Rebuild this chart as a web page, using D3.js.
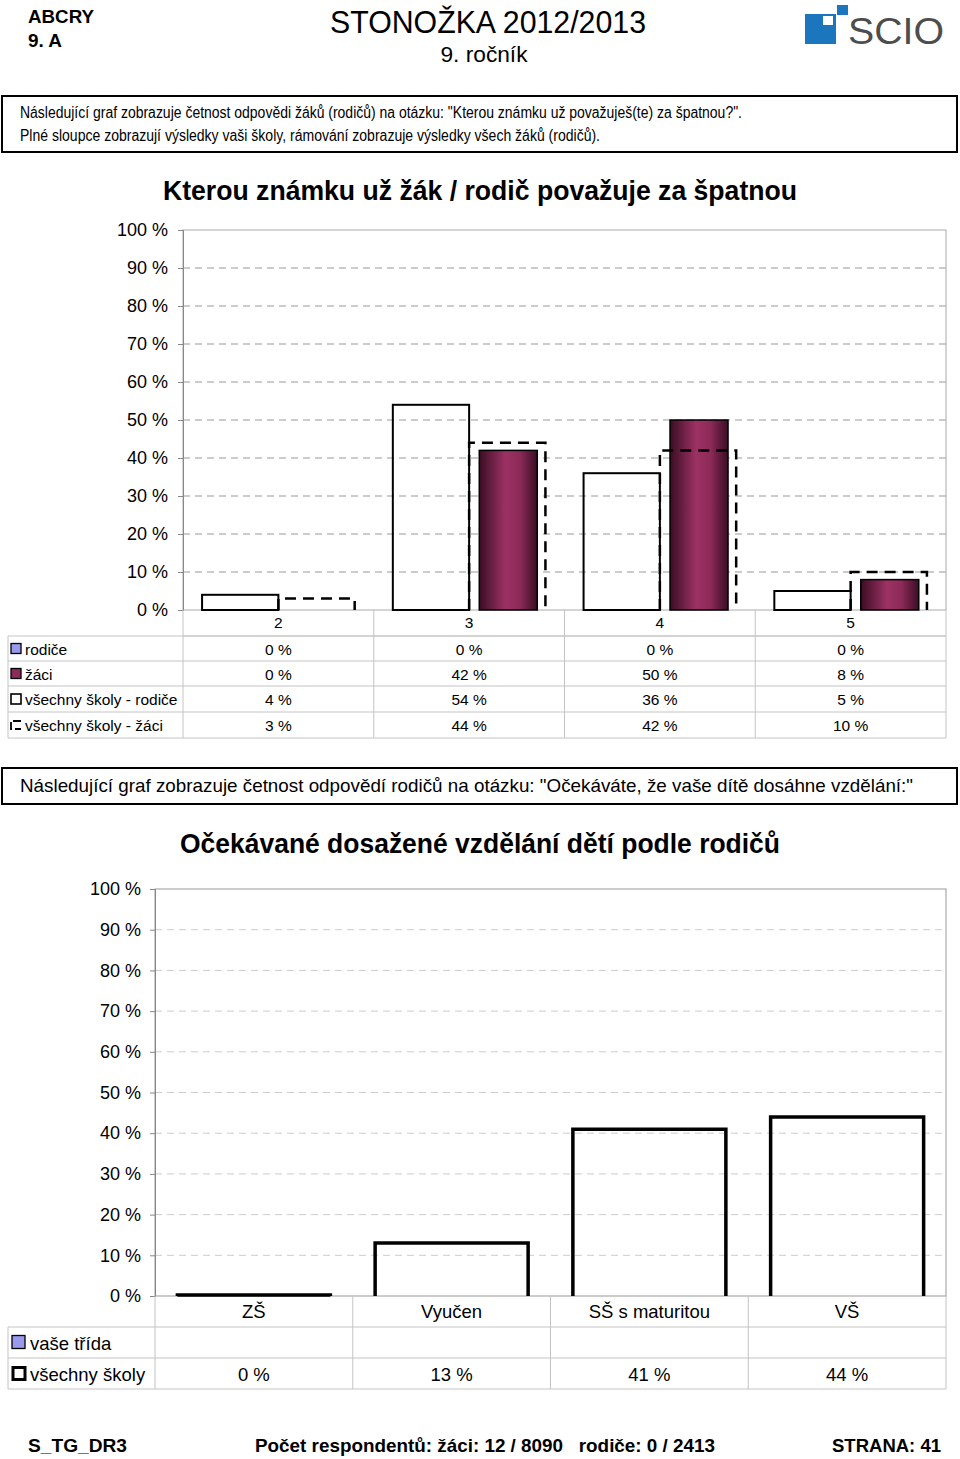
<!DOCTYPE html>
<html>
<head>
<meta charset="utf-8">
<script src="https://cdn.jsdelivr.net/npm/d3@7"></script>
<style>
  body { margin: 0; background: #fff; }
  svg { display: block; font-family: "Liberation Sans", Arial, Helvetica, sans-serif; }
  text { white-space: pre; }
</style>
</head>
<body>
<svg id="page" width="960" height="1459"></svg>
<script>
// chart 1 data - "Kterou známku už žák / rodič považuje za špatnou"
const grades = ['2', '3', '4', '5'];
const rodice = [0, 0, 0, 0];
const zaci = [0, 42, 50, 8];
const vsechnyRodice = [4, 54, 36, 5];
const vsechnyZaci = [3, 44, 42, 10];

// chart 2 data - "Očekávané dosažené vzdělání dětí podle rodičů"
const levels = ['ZŠ', 'Vyučen', 'SŠ s maturitou', 'VŠ'];
const vaseTrida = [null, null, null, null];
const vsechnySkoly = [0, 13, 41, 44];

const yTicks = [0, 10, 20, 30, 40, 50, 60, 70, 80, 90, 100];

const svg = d3.select('#page');
const fmt = v => v == null ? '' : v + ' %';

// gradient defs
const defs = svg.append('defs');
const g1 = defs.append('linearGradient').attr('id', 'maroon').attr('x1', 0).attr('x2', 1).attr('y1', 0).attr('y2', 0);
g1.append('stop').attr('offset', '0%').attr('stop-color', '#3a0d24');
g1.append('stop').attr('offset', '45%').attr('stop-color', '#9c3263');
g1.append('stop').attr('offset', '70%').attr('stop-color', '#8c2a58');
g1.append('stop').attr('offset', '100%').attr('stop-color', '#3a0d24');
const g2 = defs.append('linearGradient').attr('id', 'lavender').attr('x1', 0).attr('x2', 1).attr('y1', 0).attr('y2', 0);
g2.append('stop').attr('offset', '0%').attr('stop-color', '#5555bb');
g2.append('stop').attr('offset', '50%').attr('stop-color', '#a0a0ff');
g2.append('stop').attr('offset', '100%').attr('stop-color', '#5555bb');

// ---------- header ----------
function txt(x, y, s, opts) {
    opts = opts || {};
    const t = svg.append('text')
        .attr('x', x).attr('y', y)
        .attr('font-size', opts.size || 14)
        .attr('font-weight', opts.bold ? 'bold' : null)
        .attr('text-anchor', opts.anchor || 'start')
        .attr('fill', opts.fill || '#000')
        .text(s);
    if (opts.len) t.attr('textLength', opts.len).attr('lengthAdjust', 'spacingAndGlyphs');
    return t;
}

txt(28, 23, 'ABCRY', { size: 18, bold: true, len: 66 });
txt(28, 47, '9. A', { size: 18, bold: true, len: 34 });
txt(488, 33, 'STONOŽKA 2012/2013', { size: 31, anchor: 'middle', len: 316 });
txt(484, 62, '9. ročník', { size: 22, anchor: 'middle', len: 87 });

// SCIO logo
svg.append('rect').attr('x', 805).attr('y', 14).attr('width', 31).attr('height', 30).attr('fill', '#1b76bd');
svg.append('rect').attr('x', 823).attr('y', 16).attr('width', 10).attr('height', 9).attr('fill', '#fff');
svg.append('rect').attr('x', 837).attr('y', 5).attr('width', 11).attr('height', 10).attr('fill', '#1b76bd');
txt(848, 44, 'SCIO', { size: 36, fill: '#4d4d4d', len: 96 });

// question box 1
svg.append('rect').attr('x', 2).attr('y', 96).attr('width', 955).attr('height', 56)
    .attr('fill', 'none').attr('stroke', '#000').attr('stroke-width', 2);
txt(20, 118, 'Následující graf zobrazuje četnost odpovědi žáků (rodičů) na otázku: "Kterou známku už považuješ(te) za špatnou?".', { size: 16, len: 722 });
txt(20, 141, 'Plné sloupce zobrazují výsledky vaši školy, rámování zobrazuje výsledky všech žáků (rodičů).', { size: 16, len: 580 });

// ---------- chart 1 ----------
const c1 = { left: 183, right: 946, top: 230, bottom: 610 };
const x1 = d3.scaleBand().domain(grades).range([c1.left, c1.right]);
const slot1 = d3.scaleBand().domain(['rodiče', 'žáci']).range([0.1 * x1.bandwidth(), 0.9 * x1.bandwidth()]);
const y1 = d3.scaleLinear().domain([0, 100]).range([c1.bottom, c1.top]);

txt(480, 200, 'Kterou známku už žák / rodič považuje za špatnou', { size: 27, bold: true, anchor: 'middle', len: 634 });

const ch1 = svg.append('g');
// gridlines
ch1.selectAll('line.grid').data(yTicks.filter(d => d > 0 && d < 100)).join('line')
    .attr('x1', c1.left).attr('x2', c1.right)
    .attr('y1', d => y1(d)).attr('y2', d => y1(d))
    .attr('stroke', '#999').attr('stroke-dasharray', '7,5');
ch1.append('rect').attr('x', c1.left).attr('y', c1.top).attr('width', c1.right - c1.left).attr('height', c1.bottom - c1.top)
    .attr('fill', 'none').attr('stroke', '#aaa');

// y axis
const ay1 = d3.axisLeft(y1).tickValues(yTicks).tickFormat(d => d + ' %').tickSize(5).tickPadding(10);
ch1.append('g').attr('transform', `translate(${c1.left},0)`).call(ay1)
    .call(g => g.select('.domain').attr('stroke', '#888'))
    .call(g => g.selectAll('.tick line').attr('stroke', '#888'))
    .call(g => g.selectAll('.tick text').attr('font-size', 18).attr('font-family', 'Liberation Sans, Arial, sans-serif').attr('fill', '#000'));

// filled bars (school)
const barW = 58;
ch1.selectAll('rect.rod').data(grades).join('rect')
    .attr('x', (d) => x1(d) + slot1('rodiče') + (slot1.bandwidth() - barW) / 2)
    .attr('width', barW)
    .attr('y', (d, i) => y1(rodice[i]))
    .attr('height', (d, i) => y1(0) - y1(rodice[i]))
    .attr('fill', 'url(#lavender)').attr('stroke', '#000').attr('stroke-width', 1.5)
    .attr('display', (d, i) => rodice[i] > 0 ? null : 'none');
ch1.selectAll('rect.zac').data(grades).join('rect')
    .attr('x', (d) => x1(d) + slot1('žáci') + (slot1.bandwidth() - barW) / 2 + 1)
    .attr('width', barW)
    .attr('y', (d, i) => y1(zaci[i]))
    .attr('height', (d, i) => y1(0) - y1(zaci[i]))
    .attr('fill', 'url(#maroon)').attr('stroke', '#000').attr('stroke-width', 1.5)
    .attr('display', (d, i) => zaci[i] > 0 ? null : 'none');

// outlined bars (all schools)
ch1.selectAll('rect.vr').data(grades).join('rect')
    .attr('x', d => x1(d) + slot1('rodiče'))
    .attr('width', slot1.bandwidth())
    .attr('y', (d, i) => y1(vsechnyRodice[i]))
    .attr('height', (d, i) => y1(0) - y1(vsechnyRodice[i]))
    .attr('fill', 'none').attr('stroke', '#000').attr('stroke-width', 2);
ch1.selectAll('path.vz').data(grades).join('path')
    .attr('d', (d, i) => {
        const x0 = x1(d) + slot1('žáci'), xe = x0 + slot1.bandwidth();
        return `M${x0},${y1(0)}V${y1(vsechnyZaci[i])}H${xe}V${y1(0)}`;
    })
    .attr('fill', 'none').attr('stroke', '#000').attr('stroke-width', 2.5).attr('stroke-dasharray', '11,7');

// table 1
const rows1 = [
    { name: 'rodiče', values: rodice, icon: 'lav' },
    { name: 'žáci', values: zaci, icon: 'mar' },
    { name: 'všechny školy - rodiče', values: vsechnyRodice, icon: 'box' },
    { name: 'všechny školy - žáci', values: vsechnyZaci, icon: 'dash' }
];
const rowY1 = [610, 636, 661, 686, 712, 738];
const t1 = svg.append('g').attr('stroke', '#c4c4c4');
t1.append('line').attr('x1', c1.left).attr('x2', c1.right).attr('y1', rowY1[1]).attr('y2', rowY1[1]);
for (let r = 1; r < rowY1.length; r++) {
    t1.append('line').attr('x1', 8).attr('x2', c1.right).attr('y1', rowY1[r]).attr('y2', rowY1[r]);
}
t1.append('line').attr('x1', 8).attr('x2', 8).attr('y1', rowY1[1]).attr('y2', rowY1[5]);
[...grades.map(g => x1(g)), c1.right].forEach(x => {
    t1.append('line').attr('x1', x).attr('x2', x).attr('y1', c1.bottom).attr('y2', rowY1[5]);
});
grades.forEach(g => txt(x1(g) + x1.bandwidth() / 2, 628, g, { size: 15.5, anchor: 'middle' }));

function icon(g, kind, x, y, s) {
    if (kind === 'dash') {
        g.append('path').attr('d', `M${x + s},${y + 1}H${x}V${y + s - 1}H${x + s}`)
            .attr('fill', 'none').attr('stroke', '#000').attr('stroke-width', 1.8).attr('stroke-dasharray', '8,3');
        return;
    }
    g.append('rect').attr('x', x).attr('y', y).attr('width', s).attr('height', s)
        .attr('fill', kind === 'lav' ? '#9999ee' : kind === 'mar' ? '#8c2b5a' : '#fff')
        .attr('stroke', '#000').attr('stroke-width', kind === 'box' ? 1.6 : 1.3);
}
rows1.forEach((row, r) => {
    const cy = (rowY1[r + 1] + rowY1[r + 2]) / 2;
    icon(svg, row.icon, 11, cy - 5, 10);
    txt(25, cy + 6, row.name, { size: 15.5 });
    grades.forEach((g, i) => txt(x1(g) + x1.bandwidth() / 2, cy + 6, fmt(row.values[i]), { size: 15.5, anchor: 'middle' }));
});

// question box 2
svg.append('rect').attr('x', 2).attr('y', 768).attr('width', 955).attr('height', 36)
    .attr('fill', 'none').attr('stroke', '#000').attr('stroke-width', 2);
txt(20, 792, 'Následující graf zobrazuje četnost odpovědí rodičů na otázku: "Očekáváte, že vaše dítě dosáhne vzdělání:"', { size: 19, len: 893 });

// ---------- chart 2 ----------
const c2 = { left: 155, right: 946, top: 889, bottom: 1296 };
const x2 = d3.scaleBand().domain(levels).range([c2.left, c2.right]).paddingInner(0);
const y2 = d3.scaleLinear().domain([0, 100]).range([c2.bottom, c2.top]);

txt(480, 853, 'Očekávané dosažené vzdělání dětí podle rodičů', { size: 28, bold: true, anchor: 'middle', len: 600 });

const ch2 = svg.append('g');
ch2.selectAll('line.grid').data(yTicks.filter(d => d > 0 && d < 100)).join('line')
    .attr('x1', c2.left).attr('x2', c2.right)
    .attr('y1', d => y2(d)).attr('y2', d => y2(d))
    .attr('stroke', '#ccc').attr('stroke-dasharray', '7,5');
ch2.append('rect').attr('x', c2.left).attr('y', c2.top).attr('width', c2.right - c2.left).attr('height', c2.bottom - c2.top)
    .attr('fill', 'none').attr('stroke', '#999');

const ay2 = d3.axisLeft(y2).tickValues(yTicks).tickFormat(d => d + ' %').tickSize(5).tickPadding(9);
ch2.append('g').attr('transform', `translate(${c2.left},0)`).call(ay2)
    .call(g => g.select('.domain').attr('stroke', '#888'))
    .call(g => g.selectAll('.tick line').attr('stroke', '#888'))
    .call(g => g.selectAll('.tick text').attr('font-size', 18).attr('font-family', 'Liberation Sans, Arial, sans-serif').attr('fill', '#000'));

const bar2W = 153;
ch2.selectAll('path.vs').data(levels).join('path')
    .attr('d', (d, i) => {
        const x0 = x2(d) + (x2.bandwidth() - bar2W) / 2, xe = x0 + bar2W;
        const yt = Math.min(y2(vsechnySkoly[i]), y2(0) - 1);
        return `M${x0},${y2(0)}V${yt}H${xe}V${y2(0)}`;
    })
    .attr('fill', 'none').attr('stroke', '#000').attr('stroke-width', 3.5);

// table 2
const rows2 = [
    { name: 'vaše třída', values: vaseTrida, icon: 'lav' },
    { name: 'všechny školy', values: vsechnySkoly, icon: 'box2' }
];
const rowY2 = [1296, 1327, 1358, 1389];
const t2 = svg.append('g').attr('stroke', '#c4c4c4');
for (let r = 1; r < rowY2.length; r++) {
    t2.append('line').attr('x1', 8).attr('x2', c2.right).attr('y1', rowY2[r]).attr('y2', rowY2[r]);
}
t2.append('line').attr('x1', 8).attr('x2', 8).attr('y1', rowY2[1]).attr('y2', rowY2[3]);
[...levels.map(l => x2(l)), c2.right].forEach(x => {
    t2.append('line').attr('x1', x).attr('x2', x).attr('y1', c2.bottom).attr('y2', rowY2[3]);
});
levels.forEach(l => txt(x2(l) + x2.bandwidth() / 2, 1318, l, { size: 18.5, anchor: 'middle' }));
rows2.forEach((row, r) => {
    const cy = (rowY2[r + 1] + rowY2[r + 2]) / 2;
    if (row.icon === 'box2') {
        svg.append('rect').attr('x', 13).attr('y', cy - 6).attr('width', 12).attr('height', 12)
            .attr('fill', '#fff').attr('stroke', '#000').attr('stroke-width', 3);
    } else {
        icon(svg, row.icon, 12, cy - 7, 13);
    }
    txt(30, cy + 7, row.name, { size: 18.5 });
    levels.forEach((l, i) => txt(x2(l) + x2.bandwidth() / 2, cy + 7, fmt(row.values[i]), { size: 18.5, anchor: 'middle' }));
});

// ---------- footer ----------
txt(28, 1452, 'S_TG_DR3', { size: 19, bold: true, len: 99 });
txt(255, 1452, 'Počet respondentů: žáci: 12 / 8090   rodiče: 0 / 2413', { size: 19, bold: true, len: 460 });
txt(832, 1452, 'STRANA: 41', { size: 19, bold: true, len: 109 });
</script>
</body>
</html>
